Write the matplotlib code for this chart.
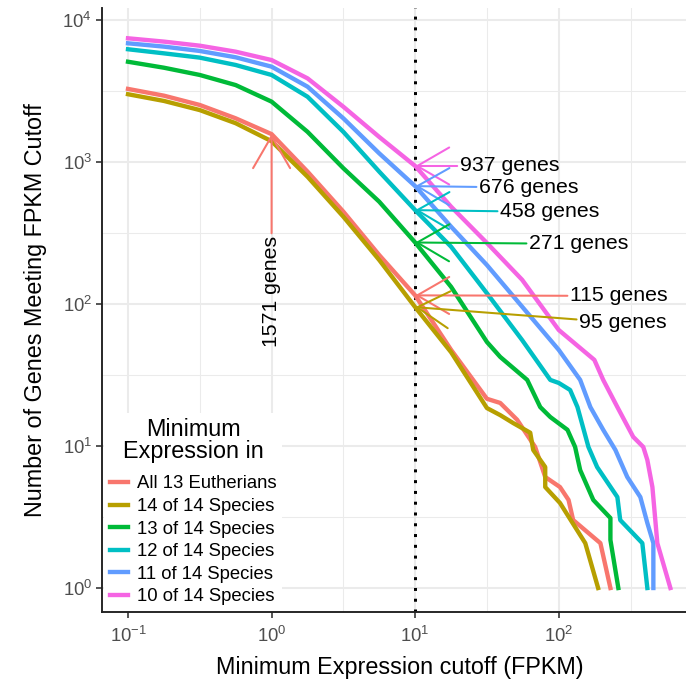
import matplotlib
matplotlib.use("Agg")
import matplotlib.pyplot as plt
from matplotlib.ticker import FixedLocator, LogFormatterSciNotation

plt.rcParams["font.family"] = ["Liberation Sans", "DejaVu Sans"]
plt.rcParams["axes.unicode_minus"] = False

# series, in legend order
series_names = ["All 13 Eutherians", "14 of 14 Species", "13 of 14 Species",
                "12 of 14 Species", "11 of 14 Species", "10 of 14 Species"]
series_colors = ["#F8766D", "#B79F00", "#00BA38", "#00BFC4", "#619CFF", "#F564E3"]

head_x = [0.1, 0.178, 0.316, 0.562, 1.0, 1.78, 3.16, 5.62, 10, 17.8, 31.6]

all13_x = head_x + [39.1, 51.3, 68.5, 80.5, 102, 117, 126, 195, 229]
all13_y = [3270, 2930, 2520, 2030, 1571, 855, 447, 221, 115, 47.5, 21.5,
           20.1, 15.3, 9.84, 6.05, 5.14, 4.17, 3.01, 2.07, 1]

s14_x = head_x + [39.1, 48.2, 63.3, 66.4, 80.5, 80.5, 102, 153, 188]
s14_y = [3000, 2690, 2320, 1875, 1400, 787, 412, 204, 95, 45.7, 18.5,
         16.5, 14.5, 12.4, 9.38, 7.11, 5.14, 3.97, 2.07, 1]

s13_x = head_x + [39.1, 60.3, 74.3, 87.3, 115, 130, 141, 174, 229, 229, 260]
s13_y = [5080, 4610, 4100, 3480, 2660, 1630, 904, 525, 271, 132, 54,
         42.4, 29.2, 18.8, 16.0, 13.0, 9.84, 6.77, 4.17, 3.11, 2.18, 1]

s12_x = head_x + [55.6, 87.3, 100, 120, 135, 161, 185, 256, 268, 382, 414]
s12_y = [6220, 5820, 5430, 4820, 4100, 2880, 1630, 855, 458, 253, 119,
         55.7, 29.2, 27.8, 24.8, 18.8, 9.84, 7.11, 4.37, 3.01, 2.07, 1]

s11_x = head_x + [55.6, 100, 141, 166, 204, 248, 300, 370, 414, 456, 456]
s11_y = [6850, 6490, 6050, 5460, 4690, 3390, 2030, 1150, 676, 350, 188,
         95.7, 47.5, 29.2, 18.8, 13.0, 9.38, 6.05, 4.37, 2.87, 2.07, 1]

s10_x = head_x + [55.6, 100, 141, 177, 204, 256, 330, 388, 414, 449, 486, 599]
s10_y = [7430, 7040, 6590, 5980, 5220, 3880, 2450, 1500, 937, 484, 269,
         148, 65.6, 49, 40.4, 29.2, 18.8, 11.6, 9.84, 7.97, 5.14, 2.07, 1]

series_x = [all13_x, s14_x, s13_x, s12_x, s11_x, s10_x]
series_y = [all13_y, s14_y, s13_y, s12_y, s11_y, s10_y]

# gene-count call-outs
ann_labels = ["1571 genes", "937 genes", "676 genes", "458 genes",
              "271 genes", "115 genes", "95 genes"]
ann_x = [1, 10, 10, 10, 10, 10, 10]
ann_y = [1571, 937, 676, 458, 271, 115, 95]
ann_text_x = [1, 20.5, 27.9, 39.1, 62.2, 120, 139]
ann_text_y = [301, 937, 660, 445, 265, 114, 73.5]
ann_colors = ["#F8766D", "#F564E3", "#619CFF", "#00BFC4", "#00BA38",
              "#F8766D", "#B79F00"]

cutoff = 10

fig = plt.figure(figsize=(7, 7), dpi=98)
# panel runs a little past the right edge of the image, as in the original
ax = fig.add_axes([0.1487, 0.1079, 0.8688, 0.8805])
ax.set_xscale("log")
ax.set_yscale("log")
ax.set_xlim(0.0659, 933)
ax.set_ylim(0.678, 12150)

major_x = [0.1, 1, 10, 100]
minor_x = [10 ** -0.5, 10 ** 0.5, 10 ** 1.5, 10 ** 2.5]
major_y = [1, 10, 100, 1000, 10000]
minor_y = [10 ** 0.5, 10 ** 1.5, 10 ** 2.5, 10 ** 3.5]
ax.xaxis.set_major_locator(FixedLocator(major_x))
ax.xaxis.set_minor_locator(FixedLocator(minor_x))
ax.yaxis.set_major_locator(FixedLocator(major_y))
ax.yaxis.set_minor_locator(FixedLocator(minor_y))
ax.xaxis.set_major_formatter(LogFormatterSciNotation())
ax.yaxis.set_major_formatter(LogFormatterSciNotation())
ax.xaxis.set_minor_formatter(plt.NullFormatter())
ax.yaxis.set_minor_formatter(plt.NullFormatter())

ax.grid(which="major", color="#EBEBEB", linewidth=1.5, zorder=0)
ax.grid(which="minor", color="#EBEBEB", linewidth=0.8, zorder=0)
ax.set_axisbelow(True)
for side in ["top", "right"]:
    ax.spines[side].set_visible(False)
for side in ["left", "bottom"]:
    ax.spines[side].set_color("#222222")
    ax.spines[side].set_linewidth(1.4)
ax.tick_params(which="major", length=4.3, width=1.2, color="#333333",
               labelcolor="#4D4D4D", labelsize=13.6)
ax.tick_params(axis="x", which="major", pad=6)
ax.tick_params(axis="y", which="major", pad=3)
ax.tick_params(which="minor", length=0)

ax.axvline(cutoff, color="black", linestyle=(0, (1, 2.6)), linewidth=2.2, zorder=1)

for name, col, xs, ys in zip(series_names, series_colors, series_x, series_y):
    ax.plot(xs, ys, color=col, linewidth=3.2, label=name, zorder=2,
            solid_joinstyle="round")

for i, lab in enumerate(ann_labels):
    rot = 90 if i == 0 else 0
    ha = "center" if i == 0 else "left"
    va = "top" if i == 0 else "center"
    ax.annotate(lab, xy=(ann_x[i], ann_y[i]), xytext=(ann_text_x[i], ann_text_y[i]),
                fontsize=15.6, rotation=rot, ha=ha, va=va, color="black", zorder=4,
                arrowprops=dict(arrowstyle="->,head_length=2.35,head_width=1.36",
                                color=ann_colors[i], lw=1.5, shrinkA=0, shrinkB=0,
                                mutation_scale=10))

ax.set_xlabel("Minimum Expression cutoff (FPKM)", fontsize=17.2, labelpad=7)
ax.set_ylabel("Number of Genes Meeting FPKM Cutoff", fontsize=17.2, labelpad=11)

leg = ax.legend(title="Minimum\nExpression in", loc="lower left",
                bbox_to_anchor=(0.004, 0.002), borderaxespad=0, fontsize=13.6,
                title_fontsize=17.2, frameon=True, fancybox=False,
                handlelength=1.0, handletextpad=0.45, labelspacing=0.3,
                borderpad=0.3)
leg.get_frame().set_facecolor("white")
leg.get_frame().set_edgecolor("none")
leg.get_frame().set_alpha(1)
leg.get_title().set_multialignment("center")
leg.get_title().set_linespacing(0.95)
leg._legend_box.sep = 9
leg.set_zorder(5)

fig.savefig("out.png", dpi=98)
